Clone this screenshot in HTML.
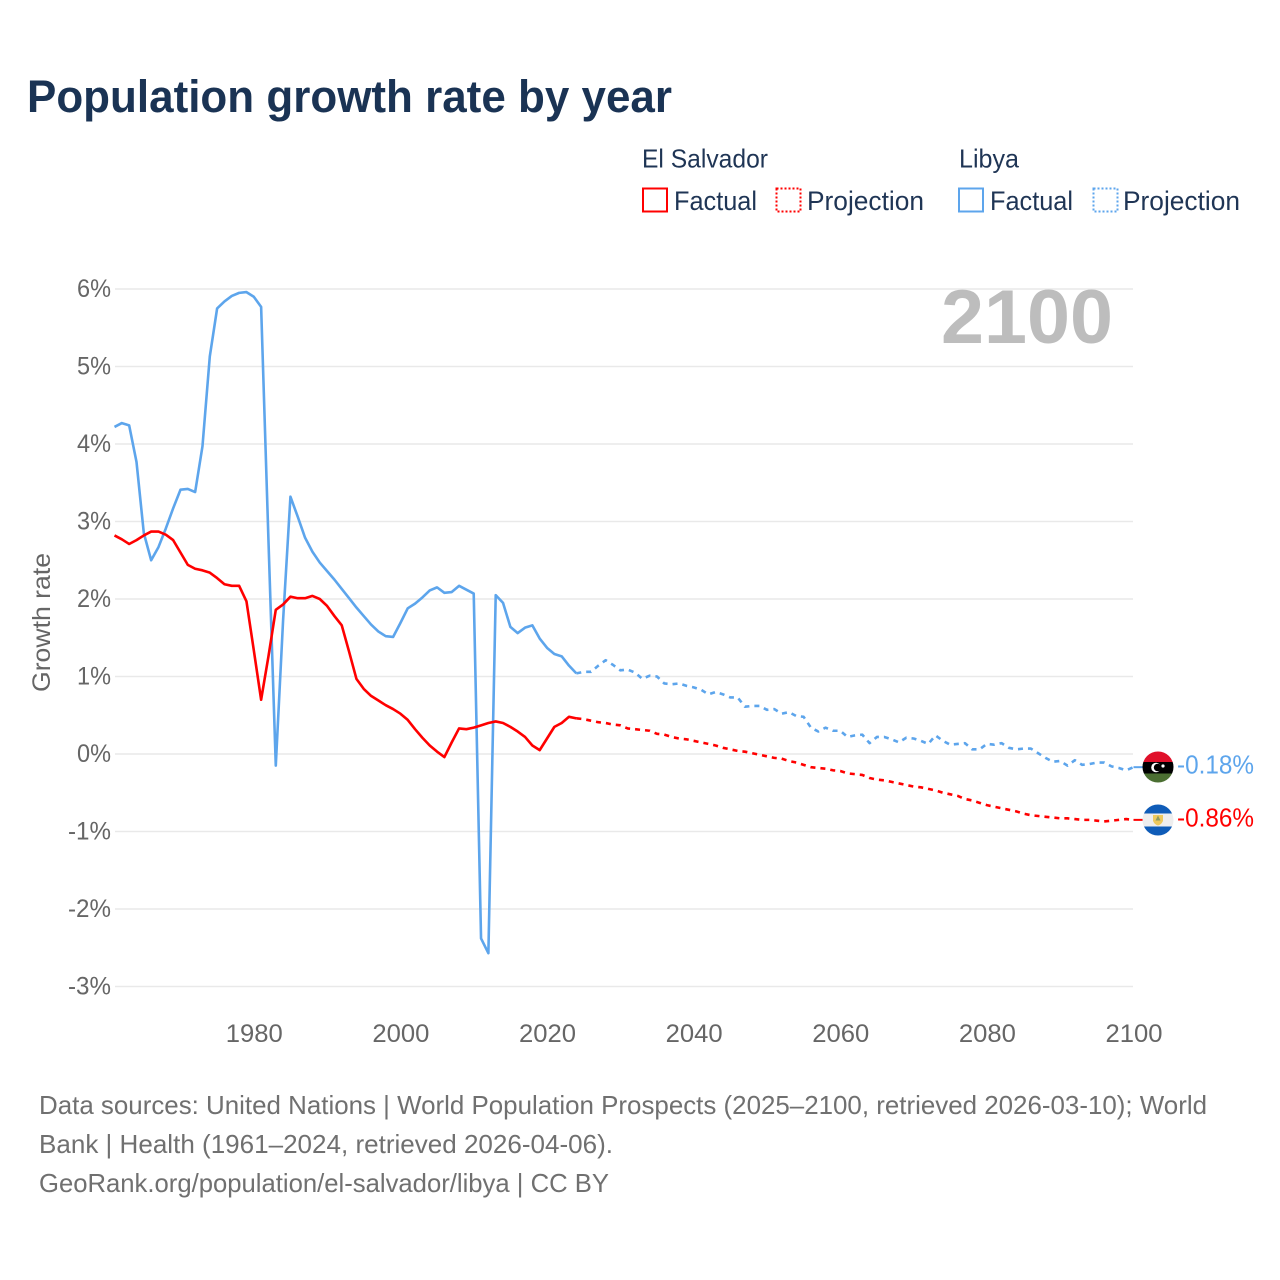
<!DOCTYPE html>
<html lang="en">
<head>
<meta charset="utf-8">
<title>Population growth rate by year</title>
<style>
html,body{margin:0;padding:0;background:#fff;}
svg{display:block;font-family:"Liberation Sans",sans-serif;}
</style>
</head>
<body>
<svg id="chart" xmlns="http://www.w3.org/2000/svg" width="1280" height="1280" viewBox="0 0 1280 1280">
  <defs>
    <clipPath id="clip-libya"><circle cx="1158" cy="767" r="15.5"/></clipPath>
    <clipPath id="clip-salvador"><circle cx="1158" cy="820" r="15.5"/></clipPath>
  </defs>
  <rect width="1280" height="1280" fill="#fff"/>
  <text x="27" y="112" font-size="45" font-weight="bold" fill="#1a3354" textLength="645" lengthAdjust="spacingAndGlyphs">Population growth rate by year</text>

  <g>
    <text x="642" y="167.5" font-size="26" fill="#1f3555" textLength="126" lengthAdjust="spacingAndGlyphs">El Salvador</text>
    <text x="959" y="167.5" font-size="26" fill="#1f3555" textLength="60" lengthAdjust="spacingAndGlyphs">Libya</text>
    <rect x="643" y="188.5" width="24" height="23" fill="none" stroke="#ff0000" stroke-width="2"/>
    <text x="674" y="210" font-size="27" fill="#1f3555" textLength="83" lengthAdjust="spacingAndGlyphs">Factual</text>
    <rect x="776.5" y="188.5" width="24" height="23" fill="none" stroke="#ff0000" stroke-width="2" stroke-dasharray="2 2"/>
    <text x="807" y="210" font-size="27" fill="#1f3555" textLength="117" lengthAdjust="spacingAndGlyphs">Projection</text>
    <rect x="959" y="188.5" width="24" height="23" fill="none" stroke="#5da5ec" stroke-width="2"/>
    <text x="990" y="210" font-size="27" fill="#1f3555" textLength="83" lengthAdjust="spacingAndGlyphs">Factual</text>
    <rect x="1093.5" y="188.5" width="24" height="23" fill="none" stroke="#5da5ec" stroke-width="2" stroke-dasharray="2 2"/>
    <text x="1123" y="210" font-size="27" fill="#1f3555" textLength="117" lengthAdjust="spacingAndGlyphs">Projection</text>
  </g>

  <g id="grid"></g>
  <g id="y-ticks"></g>
  <g id="x-ticks"></g>
  <text transform="translate(50,692) rotate(-90)" font-size="25" fill="#666" textLength="139" lengthAdjust="spacingAndGlyphs">Growth rate</text>
  <text x="1113" y="343" text-anchor="end" font-size="76" font-weight="bold" fill="#bdbdbd" textLength="172" lengthAdjust="spacingAndGlyphs">2100</text>

  <g id="series"></g>

  <g clip-path="url(#clip-libya)">
    <rect x="1142" y="751" width="32" height="11" fill="#e0102a"/>
    <rect x="1142" y="762" width="32" height="11.5" fill="#000"/>
    <rect x="1142" y="773.5" width="32" height="10" fill="#4b6f32"/>
    <circle cx="1156" cy="767.5" r="4.8" fill="#fff"/>
    <circle cx="1157.6" cy="767.5" r="3.8" fill="#000"/>
    <circle cx="1163" cy="766" r="1.6" fill="#fff"/>
  </g>
  <g clip-path="url(#clip-salvador)">
    <rect x="1142" y="804" width="32" height="9.5" fill="#0f5cb8"/>
    <rect x="1142" y="813.5" width="32" height="13" fill="#eeeeee"/>
    <rect x="1142" y="826.5" width="32" height="10" fill="#0f5cb8"/>
    <path d="M1153 815 L1163 815 L1163 821 Q1161 825 1158 825.5 Q1155 825 1153 821 Z" fill="#edc95e"/>
    <path d="M1158 815.5 L1160.5 820.5 L1155.5 820.5 Z" fill="#8f9a5e"/>
  </g>
  <text id="label-libya" x="1177" y="773.5" font-size="26" fill="#5da5ec" textLength="77" lengthAdjust="spacingAndGlyphs"></text>
  <text id="label-salvador" x="1177" y="826.5" font-size="26" fill="#ff0000" textLength="77" lengthAdjust="spacingAndGlyphs"></text>

  <g font-size="26" fill="#707070">
    <text x="39" y="1114" textLength="1168" lengthAdjust="spacingAndGlyphs">Data sources: United Nations | World Population Prospects (2025–2100, retrieved 2026-03-10); World</text>
    <text x="39" y="1153" textLength="574" lengthAdjust="spacingAndGlyphs">Bank | Health (1961–2024, retrieved 2026-04-06).</text>
    <text x="39" y="1192" textLength="570" lengthAdjust="spacingAndGlyphs">GeoRank.org/population/el-salvador/libya | CC BY</text>
  </g>
</svg>
<script>
const factualStartYear = 1961;
const projectionStartYear = 2024;
const xTickYears = [1980, 2000, 2020, 2040, 2060, 2080, 2100];
const yTickValues = [6, 5, 4, 3, 2, 1, 0, -1, -2, -3];
const libyaEndLabel = "-0.18%";
const salvadorEndLabel = "-0.86%";

const libyaFactual = [4.22,4.27,4.24,3.77,2.85,2.50,2.67,2.91,3.17,3.41,3.42,3.38,3.97,5.13,5.75,5.84,5.91,5.95,5.96,5.90,5.77,2.76,-0.15,1.73,3.32,3.06,2.79,2.61,2.47,2.36,2.25,2.13,2.01,1.89,1.78,1.67,1.58,1.52,1.51,1.69,1.88,1.94,2.02,2.11,2.15,2.08,2.09,2.17,2.12,2.07,-2.38,-2.57,2.05,1.95,1.64,1.56,1.63,1.66,1.49,1.37,1.29,1.26,1.14,1.04];

const libyaProjection = [1.04,1.06,1.06,1.14,1.21,1.15,1.08,1.09,1.05,0.97,1.01,1.00,0.91,0.90,0.91,0.88,0.86,0.83,0.77,0.80,0.77,0.73,0.73,0.61,0.62,0.62,0.57,0.58,0.52,0.54,0.49,0.48,0.34,0.29,0.34,0.30,0.30,0.22,0.24,0.25,0.14,0.22,0.22,0.19,0.15,0.21,0.20,0.17,0.13,0.24,0.17,0.12,0.13,0.14,0.06,0.06,0.13,0.12,0.14,0.08,0.06,0.07,0.07,0.01,-0.05,-0.10,-0.09,-0.15,-0.08,-0.14,-0.13,-0.11,-0.11,-0.16,-0.18,-0.21,-0.17];

const salvadorFactual = [2.82,2.77,2.71,2.76,2.82,2.87,2.87,2.83,2.76,2.60,2.44,2.39,2.37,2.34,2.27,2.19,2.17,2.17,1.97,1.34,0.70,1.26,1.86,1.93,2.03,2.01,2.01,2.04,2.00,1.91,1.78,1.66,1.32,0.97,0.84,0.75,0.69,0.63,0.58,0.52,0.44,0.32,0.21,0.11,0.03,-0.04,0.15,0.33,0.32,0.34,0.37,0.40,0.42,0.40,0.35,0.29,0.22,0.11,0.05,0.20,0.35,0.40,0.48,0.46];

const salvadorProjection = [0.46,0.45,0.43,0.41,0.40,0.38,0.37,0.33,0.32,0.31,0.30,0.26,0.25,0.22,0.20,0.19,0.17,0.15,0.13,0.11,0.08,0.06,0.04,0.03,0.01,-0.01,-0.03,-0.05,-0.06,-0.09,-0.11,-0.14,-0.17,-0.18,-0.19,-0.21,-0.22,-0.25,-0.26,-0.27,-0.31,-0.33,-0.34,-0.36,-0.38,-0.40,-0.42,-0.43,-0.45,-0.47,-0.50,-0.52,-0.54,-0.58,-0.60,-0.63,-0.66,-0.68,-0.70,-0.72,-0.74,-0.77,-0.79,-0.80,-0.81,-0.82,-0.83,-0.83,-0.84,-0.85,-0.85,-0.86,-0.87,-0.86,-0.85,-0.84,-0.85];

const SVG_NS = "http://www.w3.org/2000/svg";
const BLUE = "#5da5ec";
const RED = "#ff0000";
function xScale(year){ return 114.5 + (year - 1961) * (1133.5 - 114.5) / (2100 - 1961); }
function yScale(value){ return 754 - value * 77.5; }
function seriesPoints(values, startYear){
  return values.map(function(v, i){ return xScale(startYear + i).toFixed(2) + "," + yScale(v).toFixed(2); }).join(" ");
}
function addLine(parent, x1, y1, x2, y2, color, width){
  const el = document.createElementNS(SVG_NS, "line");
  el.setAttribute("x1", x1);
  el.setAttribute("y1", y1);
  el.setAttribute("x2", x2);
  el.setAttribute("y2", y2);
  el.setAttribute("stroke", color);
  el.setAttribute("stroke-width", width);
  parent.appendChild(el);
  return el;
}
function addPolyline(values, startYear, color, dash){
  const el = document.createElementNS(SVG_NS, "polyline");
  el.setAttribute("points", seriesPoints(values, startYear));
  el.setAttribute("fill", "none");
  el.setAttribute("stroke", color);
  el.setAttribute("stroke-width", "2.6");
  el.setAttribute("stroke-linejoin", "round");
  if (dash) { el.setAttribute("stroke-dasharray", dash); }
  document.getElementById("series").appendChild(el);
  return el;
}

const gridGroup = document.getElementById("grid");
const yTickGroup = document.getElementById("y-ticks");
yTickValues.forEach(function(v){
  const gridLine = addLine(gridGroup, 115, yScale(v), 1133, yScale(v), "#e9e9e9", 1.5);
  
  
  const t = document.createElementNS(SVG_NS, "text");
  
  
  t.setAttribute("x", 111);
  t.setAttribute("y", yScale(v) + 8);
  t.setAttribute("text-anchor", "end");
  t.setAttribute("font-size", "25");
  t.setAttribute("fill", "#666");
  t.setAttribute("textLength", v < 0 ? 43 : 34);
  t.setAttribute("lengthAdjust", "spacingAndGlyphs");
  t.textContent = v + "%";
  yTickGroup.appendChild(t);
});

const xTickGroup = document.getElementById("x-ticks");
xTickYears.forEach(function(year){
  const t = document.createElementNS(SVG_NS, "text");
  
  
  t.setAttribute("x", xScale(year) + 0.5);
  t.setAttribute("y", 1042);
  t.setAttribute("text-anchor", "middle");
  t.setAttribute("font-size", "25");
  t.setAttribute("fill", "#666");
  t.setAttribute("textLength", 57);
  t.setAttribute("lengthAdjust", "spacingAndGlyphs");
  t.textContent = year;
  xTickGroup.appendChild(t);
});

const libyaFactualLine = addPolyline(libyaFactual, factualStartYear, BLUE);


const libyaProjectionLine = addPolyline(libyaProjection, projectionStartYear, BLUE, "5 5");


const salvadorFactualLine = addPolyline(salvadorFactual, factualStartYear, RED);


const salvadorProjectionLine = addPolyline(salvadorProjection, projectionStartYear, RED, "5 5");



const seriesGroup = document.getElementById("series");
const lastLibya = libyaProjection[libyaProjection.length - 1];
const lastSalvador = salvadorProjection[salvadorProjection.length - 1];
const libyaConnector = addLine(seriesGroup, xScale(2100), yScale(lastLibya), 1143, yScale(lastLibya), BLUE, 2);


const salvadorConnector = addLine(seriesGroup, xScale(2100), yScale(lastSalvador), 1143, yScale(lastSalvador), RED, 2);



document.getElementById("label-libya").textContent = libyaEndLabel;
document.getElementById("label-salvador").textContent = salvadorEndLabel;
</script>
</body>
</html>
